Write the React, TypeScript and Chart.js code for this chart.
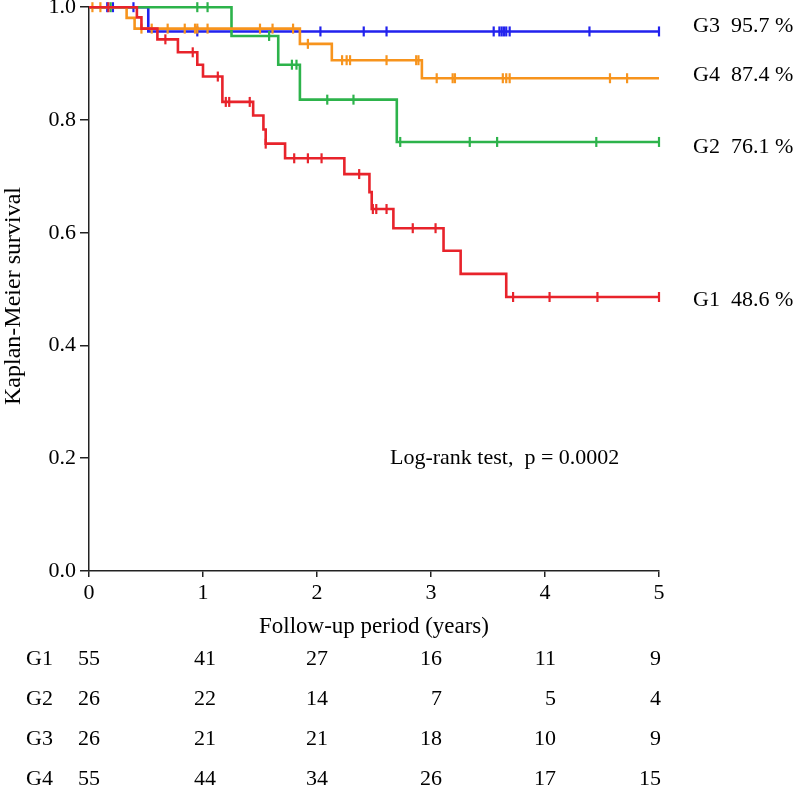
import React, { useEffect, useRef } from "react";
import { Chart, registerables } from "chart.js";

Chart.register(...registerables);

const FONT = '"Liberation Serif", "Times New Roman", serif';

// Kaplan-Meier step curves (time in years, survival after the drop)
const G1_TIMES = [0, 0.42, 0.46, 0.6, 0.78, 0.95, 1.0, 1.17, 1.44, 1.53, 1.55, 1.72, 2.24, 2.46, 2.48, 2.67, 3.11, 3.26, 3.66, 5.0];
const G1_SURV = [1.0, 0.982, 0.962, 0.943, 0.92, 0.898, 0.877, 0.832, 0.808, 0.783, 0.758, 0.732, 0.704, 0.672, 0.642, 0.608, 0.568, 0.527, 0.486, 0.486];
const G1_CENSOR = [0.17, 0.67, 0.91, 1.13, 1.2, 1.23, 1.41, 1.55, 1.8, 1.92, 2.04, 2.37, 2.49, 2.52, 2.61, 2.84, 3.04, 3.72, 4.04, 4.46, 5.0];

const G2_TIMES = [0, 1.25, 1.66, 1.85, 2.7, 5.0];
const G2_SURV = [1.0, 0.949, 0.898, 0.836, 0.761, 0.761];
const G2_CENSOR = [0.19, 0.95, 1.04, 1.58, 1.78, 1.82, 2.09, 2.32, 2.73, 3.34, 3.58, 4.45, 5.0];

const G3_TIMES = [0, 0.52, 5.0];
const G3_SURV = [1.0, 0.957, 0.957];
const G3_CENSOR = [0.16, 0.21, 0.39, 0.95, 2.03, 2.41, 2.61, 3.55, 3.6, 3.62, 3.64, 3.66, 3.69, 4.39, 5.0];

const G4_TIMES = [0, 0.33, 0.4, 1.85, 2.13, 2.92, 5.0];
const G4_SURV = [1.0, 0.981, 0.962, 0.935, 0.906, 0.874, 0.874];
const G4_CENSOR = [0.03, 0.1, 0.46, 0.55, 0.69, 0.84, 0.93, 0.95, 1.04, 1.5, 1.61, 1.79, 1.92, 2.22, 2.26, 2.29, 2.61, 2.87, 2.89, 3.05, 3.19, 3.21, 3.63, 3.66, 3.69, 4.57, 4.72];

// Labels at the end of curves
const END_LABELS = ["G3  95.7 %", "G4  87.4 %", "G2  76.1 %", "G1  48.6 %"];
const END_LABEL_Y = [0.966, 0.88, 0.751, 0.481];

// Number at risk table
const RISK_TIMES = [0, 1, 2, 3, 4, 5];
const RISK_GROUPS = ["G1", "G2", "G3", "G4"];
const RISK_G1 = [55, 41, 27, 16, 11, 9];
const RISK_G2 = [26, 22, 14, 7, 5, 4];
const RISK_G3 = [26, 21, 21, 18, 10, 9];
const RISK_G4 = [55, 44, 34, 26, 17, 15];

const LOGRANK_TEXT = "Log-rank test,  p = 0.0002";
const Y_TITLE = "Kaplan-Meier survival";

// layout constants (not data)
const RISK_ROW_Y = [659, 699, 739, 779];
const RISK_COL_OFFSET = [11, 13, 11, 11, 11, 2];

const COLORS = { G1: "#e8232b", G2: "#2db34b", G3: "#2222ee", G4: "#f7941d" };

function stepValue(times: number[], surv: number[], t: number) {
  let v = surv[0];
  for (let i = 0; i < times.length; i++) {
    if (times[i] <= t + 1e-9) v = surv[i];
  }
  return v;
}

function curve(label: string, times: number[], surv: number[], color: string) {
  return {
    type: "line" as const,
    label,
    data: times.map((t, i) => ({ x: t, y: surv[i] })),
    stepped: true,
    borderColor: color,
    backgroundColor: color,
    borderWidth: 2.6,
    pointRadius: 0,
    fill: false,
    clip: false as any,
  };
}

function censors(label: string, times: number[], surv: number[], cens: number[], color: string) {
  return {
    type: "scatter" as const,
    label,
    data: cens.map((t) => ({ x: t, y: stepValue(times, surv, t) })),
    showLine: false,
    pointStyle: "line" as const,
    rotation: 90,
    pointRadius: 5,
    borderWidth: 2.2,
    borderColor: color,
    backgroundColor: color,
    clip: false as any,
  };
}

const textPlugin = {
  id: "kmText",
  afterDraw(chart: any) {
    const { ctx, scales } = chart;
    const x = scales.x;
    const y = scales.y;
    ctx.save();
    ctx.fillStyle = "#000";
    ctx.font = `22px ${FONT}`;
    ctx.textBaseline = "middle";
    ctx.textAlign = "left";
    END_LABELS.forEach((lab, i) => {
      ctx.fillText(lab, 693, y.getPixelForValue(END_LABEL_Y[i]));
    });
    ctx.fillText(LOGRANK_TEXT, 390, y.getPixelForValue(0.2));
    const rows = [RISK_G1, RISK_G2, RISK_G3, RISK_G4];
    rows.forEach((row, r) => {
      ctx.textAlign = "left";
      ctx.fillText(RISK_GROUPS[r], 26, RISK_ROW_Y[r]);
      ctx.textAlign = "right";
      row.forEach((n, j) => {
        ctx.fillText(String(n), x.getPixelForValue(RISK_TIMES[j]) + RISK_COL_OFFSET[j], RISK_ROW_Y[r]);
      });
    });
    // y-axis title
    ctx.save();
    ctx.translate(14, 296);
    ctx.rotate(-Math.PI / 2);
    ctx.textAlign = "center";
    ctx.font = `24px ${FONT}`;
    ctx.fillText(Y_TITLE, 0, 0);
    ctx.restore();
    ctx.restore();
  },
};

export default function App() {
  const ref = useRef<HTMLCanvasElement | null>(null);
  useEffect(() => {
    if (!ref.current) return;
    const chart = new Chart(ref.current, {
      type: "line",
      data: {
        datasets: [
          censors("G1c", G1_TIMES, G1_SURV, G1_CENSOR, COLORS.G1),
          curve("G1", G1_TIMES, G1_SURV, COLORS.G1),
          censors("G4c", G4_TIMES, G4_SURV, G4_CENSOR, COLORS.G4),
          curve("G4", G4_TIMES, G4_SURV, COLORS.G4),
          censors("G2c", G2_TIMES, G2_SURV, G2_CENSOR, COLORS.G2),
          curve("G2", G2_TIMES, G2_SURV, COLORS.G2),
          censors("G3c", G3_TIMES, G3_SURV, G3_CENSOR, COLORS.G3),
          curve("G3", G3_TIMES, G3_SURV, COLORS.G3),
        ] as any,
      },
      options: {
        responsive: false,
        animation: false,
        devicePixelRatio: 1,
        layout: { padding: { left: 0, right: 141, top: 4, bottom: 155 } },
        plugins: { legend: { display: false }, tooltip: { enabled: false } },
        scales: {
          x: {
            type: "linear",
            min: 0,
            max: 5,
            ticks: {
              stepSize: 1,
              color: "#000",
              font: { family: FONT, size: 22 },
              padding: 3,
              maxRotation: 0,
            },
            grid: { drawOnChartArea: false, drawTicks: true, tickLength: 6, color: "#222", lineWidth: 1.5 },
            border: { color: "#222", width: 1.5 },
            title: {
              display: true,
              text: "Follow-up period (years)",
              color: "#000",
              font: { family: FONT, size: 23 },
              padding: 0,
            },
            afterFit: (s: any) => {
              s.height = 70;
              s.paddingLeft = 0;
              s.paddingRight = 0;
            },
          },
          y: {
            type: "linear",
            min: 0,
            max: 1,
            ticks: {
              stepSize: 0.2,
              color: "#000",
              font: { family: FONT, size: 22 },
              padding: 4,
              callback: (v: any) => Number(v).toFixed(1),
            },
            grid: { drawOnChartArea: false, drawTicks: true, tickLength: 9, color: "#222", lineWidth: 1.5 },
            border: { color: "#222", width: 1.5 },
            title: { display: false },
            afterFit: (s: any) => {
              s.width = 89;
              s.paddingTop = 0;
              s.paddingBottom = 0;
            },
          },
        },
      } as any,
      plugins: [textPlugin],
    });
    return () => chart.destroy();
  }, []);
  return (
    <div style={{ position: "absolute", left: 0, top: 0, width: 800, height: 796, background: "#fff" }}>
      <canvas ref={ref} width={800} height={796} style={{ display: "block" }} />
    </div>
  );
}
